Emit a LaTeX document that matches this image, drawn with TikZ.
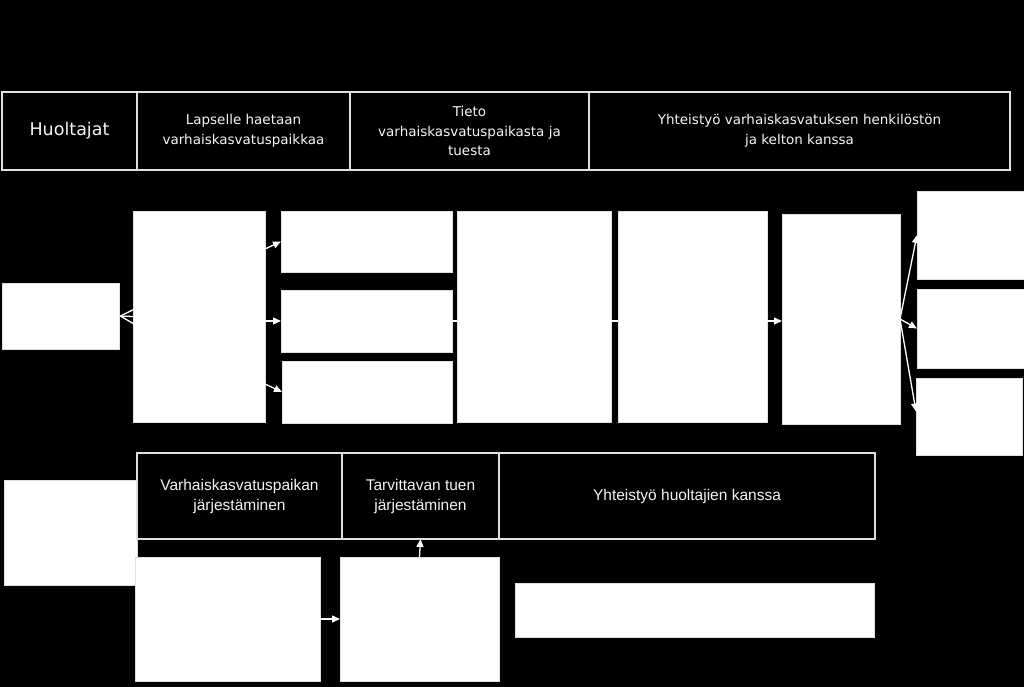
\documentclass[tikz,border=0pt]{standalone}
\usepackage{fontspec}
\setmainfont{DejaVu Sans}
\newfontfamily\arialf{Liberation Sans}
\usetikzlibrary{arrows.meta}
\begin{document}
\begin{tikzpicture}[x=1pt,y=-1pt,
 wbox/.style={draw=black!12, line width=1pt, fill=white, inner sep=0pt, outer sep=0pt, anchor=north west},
 cell/.style={draw=black!12, line width=1.3pt, fill=black, text=black!4, inner sep=0pt, outer sep=0pt, anchor=north west, align=center},
 toptext/.style={font=\fontsize{13.5}{19.5}\selectfont},
 bottext/.style={font=\arialf\fontsize{15.5}{20}\selectfont},
 arr/.style={draw=white, line width=1.3pt, -{Triangle[length=8pt,width=7pt]}},
 barb/.style={draw=white, line width=1.3pt, -{Straight Barb[length=14pt,width=15pt]}},
 ln/.style={draw=white, line width=1.3pt}]
\fill[black] (0,0) rectangle (1024,687);
\useasboundingbox (0,0) rectangle (1024,687);
% top band
\node[cell, minimum width=135pt, minimum height=78pt, font=\fontsize{17.5}{21}\selectfont] (T1) at (2,92) {Huoltajat};
\node[cell, toptext, minimum width=213pt, minimum height=78pt] (T2) at (137,92) {Lapselle haetaan\\varhaiskasvatuspaikkaa};
\node[cell, toptext, minimum width=239pt, minimum height=78pt] (T3) at (350,92) {Tieto\\varhaiskasvatuspaikasta ja\\tuesta};
\node[cell, toptext, minimum width=421pt, minimum height=78pt] (T4) at (589,92) {Yhteistyö varhaiskasvatuksen henkilöstön\\ja kelton kanssa};
% middle row
\node[wbox, minimum width=117pt, minimum height=66pt] (A) at (2,283) {};
\node[wbox, minimum width=132pt, minimum height=211pt] (B) at (133,211) {};
\node[wbox, minimum width=171pt, minimum height=61pt] (C1) at (281,211) {};
\node[wbox, minimum width=171pt, minimum height=62pt] (C2) at (281,290) {};
\node[wbox, minimum width=170pt, minimum height=62pt] (C3) at (282,361) {};
\node[wbox, minimum width=154pt, minimum height=211pt] (D) at (457,211) {};
\node[wbox, minimum width=149pt, minimum height=211pt] (E) at (618,211) {};
\node[wbox, minimum width=118pt, minimum height=210pt] (F) at (782,214) {};
\node[wbox, minimum width=110pt, minimum height=88pt] (G1) at (917,191) {};
\node[wbox, minimum width=110pt, minimum height=79pt] (G2) at (917,289) {};
\node[wbox, minimum width=106pt, minimum height=77pt] (G3) at (916,378) {};
% bottom
\node[wbox, minimum width=133pt, minimum height=105pt] (H) at (4,480) {};
\node[cell, bottext, minimum width=205pt, minimum height=86pt] (U1) at (137,453) {Varhaiskasvatuspaikan\\järjestäminen};
\node[cell, bottext, minimum width=157pt, minimum height=86pt] (U2) at (342,453) {Tarvittavan tuen\\järjestäminen};
\node[cell, bottext, minimum width=376pt, minimum height=86pt] (U3) at (499,453) {Yhteistyö huoltajien kanssa};
\node[wbox, minimum width=185pt, minimum height=124pt] (I) at (135,557) {};
\node[wbox, minimum width=159pt, minimum height=124pt] (J) at (340,557) {};
\node[wbox, minimum width=359pt, minimum height=54pt] (K) at (515,583) {};
% connectors
\draw[barb] (B.west) -- (A.east);
\draw[arr] ([yshift=-38pt]B.north east) -- (C1.west);
\draw[arr] (B.east |- C2.west) -- (C2.west);
\draw[arr] ([yshift=-173pt]B.north east) -- (C3.west);
\draw[ln] (C2.east) -- (C2.east -| D.west);
\draw[ln] (D.east |- C2.east) -- (E.west |- C2.east);
\draw[arr] (E.east |- C2.east) -- (F.west |- C2.east);
\draw[arr] (F.east) -- (G1.west);
\draw[arr] (F.east) -- (G2.west);
\draw[arr] (F.east) -- ([yshift=5pt]G3.west);
\draw[arr] (I.east) -- (J.west);
\draw[arr] (J.north) -- (U2.south);
\end{tikzpicture}
\end{document}
